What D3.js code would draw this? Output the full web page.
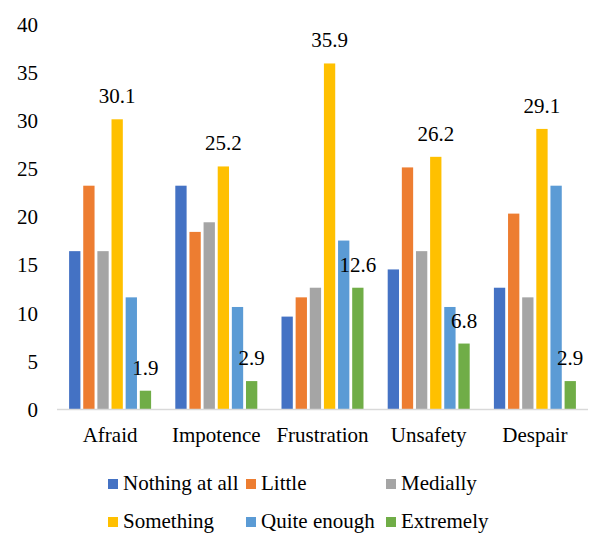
<!DOCTYPE html>
<html><head><meta charset="utf-8">
<script src="https://cdn.jsdelivr.net/npm/d3@7"></script>
</head><body style="margin:0">
<svg id="c" width="595" height="533" style="font-family:'Liberation Serif'"></svg>
<script>
const categories = ["Afraid","Impotence","Frustration","Unsafety","Despair"];
const seriesNames = ["Nothing at all","Little","Medially","Something","Quite enough","Extremely"];
const colors = ["#4472C4","#ED7D31","#A5A5A5","#FFC000","#5B9BD5","#70AD47"];
const nothingAtAll = [16.4,23.2,9.6,14.5,12.6];
const little = [23.2,18.4,11.6,25.1,20.3];
const medially = [16.4,19.4,12.6,16.4,11.6];
const something = [30.1,25.2,35.9,26.2,29.1];
const quiteEnough = [11.6,10.6,17.5,10.6,23.2];
const extremely = [1.9,2.9,12.6,6.8,2.9];
const yTicks = [0,5,10,15,20,25,30,35,40];
const labeledSeries = ["Something","Extremely"];

const seriesValues = [nothingAtAll,little,medially,something,quiteEnough,extremely];
const svg = d3.select("#c");
const pLeft=57,pRight=588,pTop=24,pBottom=409;
const y = d3.scaleLinear().domain([0,40]).range([pBottom,pTop]);
const x0 = d3.scaleBand().domain(categories).range([pLeft,pRight]).padding(0);
const inner = 82, off=(x0.bandwidth()-inner)/2;
const x1 = d3.scaleBand().domain(seriesNames).range([off,off+inner]).paddingInner(0.2).paddingOuter(0);

function styleText(sel){ sel.attr("style","font-family:'Liberation Serif';font-size:21px;fill:#000"); }

const yAxis = d3.axisLeft(y).tickValues(yTicks).tickSize(0).tickPadding(0);
const ga = svg.append("g").attr("transform","translate(38,0)").call(yAxis);
ga.attr("font-family",null).attr("font-size",null);
ga.select(".domain").remove();
ga.selectAll("text").attr("dy","0.35em").call(styleText);

const groups = svg.selectAll("g.cat").data(categories).enter().append("g")
  .attr("class","cat").attr("transform",d=>`translate(${x0(d)},0)`);
seriesNames.forEach((s,si)=>{
  groups.append("rect")
    .attr("x",x1(s)).attr("width",x1.bandwidth())
    .attr("y",(d,ci)=>y(seriesValues[si][ci]))
    .attr("height",(d,ci)=>pBottom-y(seriesValues[si][ci]))
    .attr("fill",colors[si]);
  if(labeledSeries.includes(s)){
    groups.append("text")
      .attr("x",x1(s)+x1.bandwidth()/2)
      .attr("y",(d,ci)=>y(seriesValues[si][ci])-16)
      .attr("text-anchor","middle")
      .text((d,ci)=>seriesValues[si][ci].toFixed(1))
      .call(styleText);
  }
});

svg.append("line").attr("x1",pLeft).attr("x2",pRight).attr("y1",pBottom+0.5).attr("y2",pBottom+0.5)
  .attr("stroke","#D9D9D9").attr("stroke-width",1.5);

const xAxis = d3.axisBottom(x0).tickSize(0).tickPadding(0);
const gx = svg.append("g").attr("transform",`translate(0,${pBottom})`).call(xAxis);
gx.attr("font-family",null).attr("font-size",null);
gx.select(".domain").remove();
gx.selectAll("text").attr("dy",null).attr("y",33).call(styleText);

const legX=[108,246,386], legY=[484,522];
seriesNames.forEach((s,i)=>{
  const lx=legX[i%3], ly=legY[Math.floor(i/3)];
  svg.append("rect").attr("x",lx).attr("y",ly-5).attr("width",10).attr("height",10).attr("fill",colors[i]);
  svg.append("text").attr("x",lx+15).attr("y",ly+6).text(s).call(styleText);
});
</script></body></html>
